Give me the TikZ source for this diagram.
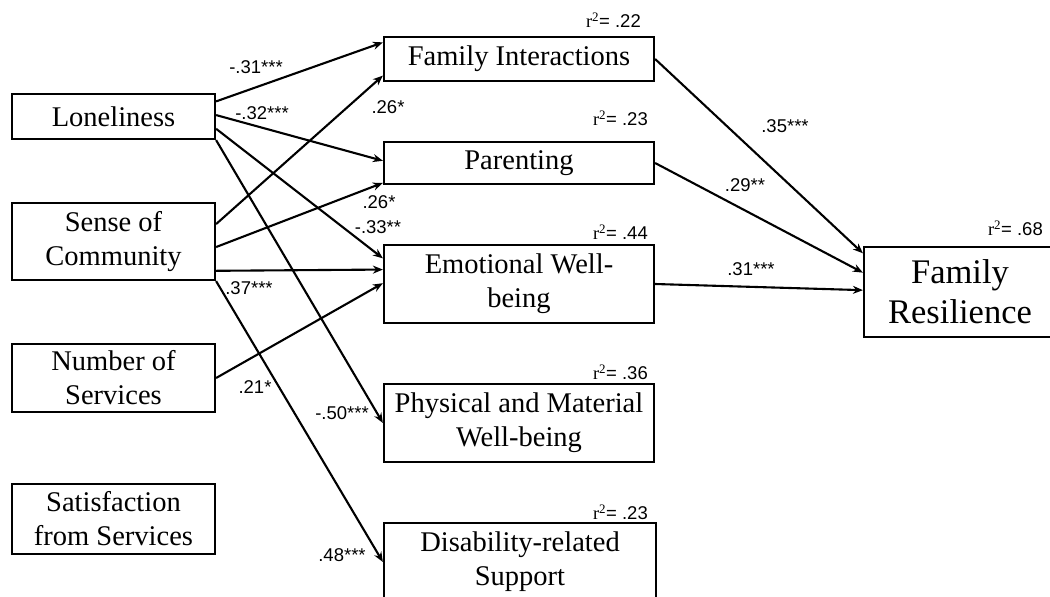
\documentclass[tikz,border=0pt]{standalone}
\usepackage{fontspec}
\setmainfont{Liberation Serif}
\newfontfamily\coeffont{Liberation Sans}
\usetikzlibrary{arrows.meta,calc}

\tikzset{
  varbox/.style={draw, line width=2.2pt, align=center, inner sep=0pt, font=\fontsize{28.5}{34}\selectfont},
  effect/.style={-{Stealth[length=10pt,width=8pt]}, line width=2.1pt},
  coef/.style={font=\coeffont\fontsize{18.5}{22}\selectfont, inner sep=0pt},
  rsq/.style={coef, anchor=east},
}

\begin{document}
\begin{tikzpicture}[x=1pt, y=-1pt]
\clip (0,0) rectangle (1050,597);
% predictors
\node[varbox, minimum width=203pt, minimum height=45pt] (lon) at (113.5,116.5) {Loneliness};
\node[varbox, minimum width=203pt, minimum height=77pt] (soc) at (113.5,241.5) {Sense of\\Community};
\node[varbox, minimum width=203pt, minimum height=68pt] (nos) at (113.5,378) {Number of\\Services};
\node[varbox, minimum width=203pt, minimum height=70pt] (sat) at (113.5,519) {Satisfaction\\from Services};
% mediators
\node[varbox, minimum width=270pt, minimum height=44pt] (fi) at (519,59) {Family Interactions};
\node[varbox, minimum width=270pt, minimum height=42pt] (par) at (519,163) {Parenting};
\node[varbox, minimum width=270pt, minimum height=78pt] (ewb) at (519,284) {Emotional Well-\\being};
\node[varbox, minimum width=270pt, minimum height=78pt] (pmw) at (519,423) {Physical and Material\\Well-being};
\node[varbox, minimum width=272pt, minimum height=78pt] (drs) at (520,562) {Disability-related\\Support};
% outcome
\node[varbox, minimum width=192pt, minimum height=90pt, font=\fontsize{34.5}{40}\selectfont] (fr) at (960,292) {Family\\Resilience};

% explained variance
\node[rsq] (rfi) at (641,20) {{\rmfamily r\textsuperscript{2}}= .22};
\node[rsq] (rpar) at (648,118) {{\rmfamily r\textsuperscript{2}}= .23};
\node[rsq] (rewb) at (648,232) {{\rmfamily r\textsuperscript{2}}= .44};
\node[rsq] (rpmw) at (648,372) {{\rmfamily r\textsuperscript{2}}= .36};
\node[rsq] (rdrs) at (648,512) {{\rmfamily r\textsuperscript{2}}= .23};
\node[rsq] (rfr) at (1043,228) {{\rmfamily r\textsuperscript{2}}= .68};

% paths
\draw[effect] ($(lon.north east)!0.18!(lon.south east)$) -- ($(fi.north west)!0.14!(fi.south west)$);
\draw[effect] ($(lon.north east)!0.47!(lon.south east)$) -- ($(par.north west)!0.45!(par.south west)$);
\draw[effect] ($(lon.north east)!0.76!(lon.south east)$) -- ($(ewb.north west)!0.18!(ewb.south west)$);
\draw[effect] (lon.south east) -- (pmw.west);
\draw[effect] ($(soc.north east)!0.28!(soc.south east)$) -- ($(fi.north west)!0.86!(fi.south west)$);
\draw[effect] ($(soc.north east)!0.57!(soc.south east)$) -- ($(par.north west)!0.95!(par.south west)$);
\draw[effect] ($(soc.north east)!0.87!(soc.south east)$) -- ($(ewb.north west)!0.32!(ewb.south west)$);
\draw[effect] (soc.south east) -- (drs.west);
\draw[effect] (nos.east) -- ($(ewb.north west)!0.49!(ewb.south west)$);
\draw[effect] (fi.east) -- ($(fr.north west)!0.08!(fr.south west)$);
\draw[effect] (par.east) -- ($(fr.north west)!0.29!(fr.south west)$);
\draw[effect] (ewb.east) -- ($(fr.north west)!0.48!(fr.south west)$);

% coefficients
\node[coef] (c1) at (256,67) {-.31***};
\node[coef] (c2) at (262,113) {-.32***};
\node[coef] (c3) at (388,107) {.26*};
\node[coef] (c4) at (379,202) {.26*};
\node[coef] (c5) at (378,227) {-.33**};
\node[coef] (c6) at (249,288) {.37***};
\node[coef] (c7) at (255,387) {.21*};
\node[coef] (c8) at (342,413) {-.50***};
\node[coef] (c9) at (342,555) {.48***};
\node[coef] (c10) at (785,126) {.35***};
\node[coef] (c11) at (745,185) {.29**};
\node[coef] (c12) at (751,269) {.31***};
\end{tikzpicture}
\end{document}
